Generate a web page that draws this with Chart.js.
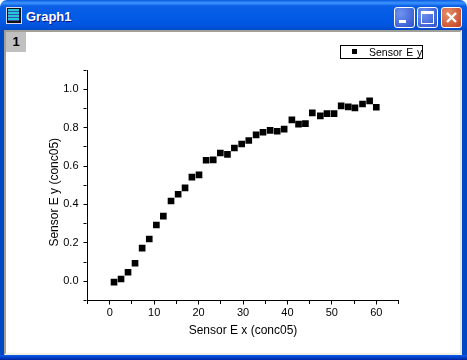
<!DOCTYPE html>
<html>
<head>
<meta charset="utf-8">
<title>Graph1</title>
<script src="https://cdn.jsdelivr.net/npm/chart.js@4/dist/chart.umd.min.js"></script>
<style>
html, body { margin: 0; padding: 0; background: #fff; }
#win { position: relative; width: 467px; height: 360px; overflow: hidden; border-radius: 7px 7px 0 0;
    background: linear-gradient(#0a5ae0 0, #3d95ff 3px, #0a5fe6 6px, #0058e4 22px, #0252d8 27px, #0148c4 31px); }
#frame { position: absolute; left: 4px; top: 30px; width: 458px; height: 325px; background: #fff;
    box-sizing: border-box; border: 2px solid #a09f98; border-right-color: #e8e8e4; border-bottom-color: #f1efe2; }
#bottom { position: absolute; left: 0; top: 355px; width: 467px; height: 5px; background: linear-gradient(#0b5cf0, #00249c); }
#tag { position: absolute; left: 6px; top: 32px; width: 20px; height: 20px; background: #c0c0c0;
    font: bold 13px "Liberation Sans", Arial, sans-serif; line-height: 20px; text-align: center; color: #000; }
#caption { position: absolute; left: 26px; top: 9px; color: #fff; font: bold 13px "Liberation Sans", Arial, sans-serif;
    line-height: 16px; text-shadow: 1px 1px 0 #0f1089; }
#icon { position: absolute; left: 7px; top: 8px; width: 11px; height: 12px; border: 1px solid #111; border-right-width: 2px; border-bottom-width: 2px;
    background: repeating-linear-gradient(#25c8d8 0 2px, #3550b0 2px 3px); outline: 1px solid #d8d8f0; }
.btn { position: absolute; top: 7px; width: 19px; height: 19px; border: 1px solid #fff; border-radius: 3px;
    background: radial-gradient(circle at 30% 30%, #6f93ee, #2b50cf); }
#min { left: 394px; } #max { left: 417px; }
#close { left: 441px; background: radial-gradient(circle at 30% 30%, #e8906e, #c23f1c); }
#min i { position: absolute; left: 4px; top: 12px; width: 7px; height: 3px; background: #fff; }
#max i { position: absolute; left: 3px; top: 3px; border: 1px solid #fff; border-top-width: 3px; box-sizing: border-box; width: 13px; height: 13px; }
#close svg { position: absolute; left: 3px; top: 3px; }
#legend { position: absolute; left: 340px; top: 45px; width: 83px; height: 14px; box-sizing: border-box; border: 1px solid #000;
    background: #fff; font: 10.5px "Liberation Sans", Arial, sans-serif; line-height: 12px; color: #000; white-space: nowrap; }
#legend i { position: absolute; left: 11px; top: 3px; width: 5px; height: 5px; background: #000; }
#legend span { position: absolute; left: 28px; top: 0; word-spacing: 1px; }
canvas { position: absolute; left: 0; top: 0; }
</style>
</head>
<body>
<div id="win">
    <div id="frame"></div>
    <div id="bottom"></div>
    <div id="icon"></div>
    <div id="caption">Graph1</div>
    <div class="btn" id="min"><i></i></div>
    <div class="btn" id="max"><i></i></div>
    <div class="btn" id="close"><svg width="13" height="13"><path d="M2 2 L11 11 M11 2 L2 11" stroke="#fff" stroke-width="2.4"/></svg></div>
    <div style="position:absolute;left:0;top:0;width:467px;height:360px">
        <canvas id="graph" width="467" height="360"></canvas>
    </div>
    <div id="tag">1</div>
    <div id="legend"><i></i><span id="legendText"></span></div>
</div>
<script>
const seriesName = 'Sensor E y';
const xTitle = 'Sensor E x (conc05)';
const yTitle = 'Sensor E y (conc05)';
const xValues = [0.97, 2.55, 4.12, 5.7, 7.3, 8.9, 10.5, 12.07, 13.8, 15.4, 16.96, 18.5, 20.1, 21.7, 23.3, 24.9, 26.5, 28.06, 29.7,
    31.3, 32.95, 34.5, 36.1, 37.7, 39.26, 41, 42.5, 44.05, 45.6, 47.4, 48.9, 50.5, 52.1, 53.7, 55.2, 56.9, 58.5, 60];
const yValues = [-0.004, 0.012, 0.047, 0.094, 0.173, 0.22, 0.293, 0.339, 0.418, 0.453, 0.486, 0.542, 0.554, 0.63, 0.632, 0.668, 0.661, 0.694, 0.715,
    0.733, 0.762, 0.776, 0.786, 0.781, 0.792, 0.84, 0.818, 0.821, 0.877, 0.861, 0.873, 0.873, 0.913, 0.908, 0.903, 0.923, 0.939, 0.906];

const tickFont = { family: '"Liberation Sans", Arial, sans-serif', size: 11 };
const titleFont = { family: '"Liberation Sans", Arial, sans-serif', size: 12 };

function isMajorX(value) { return Math.round(value) % 10 === 0; }
function isMajorY(value) { return Math.round(value * 10) % 2 === 0; }

document.getElementById('legendText').textContent = seriesName;

const points = xValues.map((x, i) => ({ x: x, y: yValues[i] }));

new Chart(document.getElementById('graph').getContext('2d'), {
    type: 'scatter',
    data: {
        datasets: [{
            label: seriesName,
            data: points,
            pointStyle: 'rect',
            pointRadius: 4.7,
            pointBackgroundColor: '#000',
            pointBorderWidth: 0
        }]
    },
    options: {
        responsive: false,
        animation: false,
        layout: { padding: { left: 47, right: 68.5, top: 70, bottom: 22 } },
        plugins: { legend: { display: false }, tooltip: { enabled: false } },
        scales: {
            x: {
                type: 'linear',
                min: -5,
                max: 65,
                afterFit: (scale) => { scale.height = 37.5; },
                grid: {
                    drawOnChartArea: false,
                    tickLength: 4,
                    tickColor: '#000',
                    // minor ticks are a bit shorter
                    tickBorderDash: (ctx) => (ctx.tick && isMajorX(ctx.tick.value)) ? [] : [3, 9]
                },
                border: { color: '#000', width: 1 },
                ticks: {
                    stepSize: 5,
                    autoSkip: false,
                    maxRotation: 0,
                    color: '#000',
                    font: tickFont,
                    padding: 2,
                    callback: (value) => isMajorX(value) ? String(value) : ''
                },
                title: { display: true, text: xTitle, color: '#000', font: titleFont, padding: 0 }
            },
            y: {
                type: 'linear',
                min: -0.1,
                max: 1.1,
                afterFit: (scale) => {
                    scale.width = 40.5;
                    // the y title sits a little below the middle of the axis
                    scale.drawTitle = function () {
                        this.ctx.save();
                        this.ctx.translate(0, 7);
                        Object.getPrototypeOf(this).drawTitle.call(this);
                        this.ctx.restore();
                    };
                },
                grid: {
                    drawOnChartArea: false,
                    tickLength: 4,
                    tickColor: '#000',
                    tickBorderDash: (ctx) => (ctx.tick && isMajorY(ctx.tick.value)) ? [] : [3, 9]
                },
                border: { color: '#000', width: 1 },
                ticks: {
                    stepSize: 0.1,
                    autoSkip: false,
                    color: '#000',
                    font: tickFont,
                    padding: 5,
                    callback: (value) => isMajorY(value) ? value.toFixed(1) : ''
                },
                title: { display: true, text: yTitle, color: '#000', font: titleFont, padding: 0 }
            }
        }
    }
});
</script>
</body>
</html>
